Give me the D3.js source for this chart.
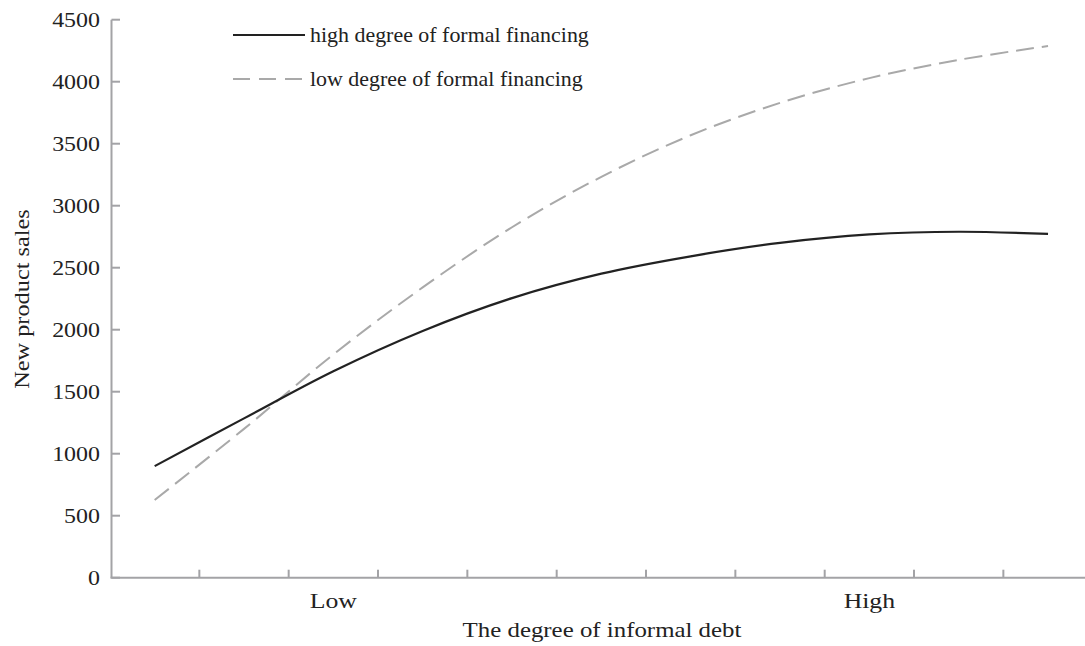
<!DOCTYPE html>
<html>
<head>
<meta charset="utf-8">
<script src="https://cdn.jsdelivr.net/npm/d3@7"></script>
<style>
  html, body { margin: 0; padding: 0; background: #fff; }
  svg { display: block; }
  text { font-family: "Liberation Serif", "DejaVu Serif", serif; fill: #222; }
</style>
</head>
<body>
<svg id="chart" width="1085" height="646"></svg>
<script>
// Eleven positions along the informal-debt axis
const categories = ["1", "2", "3", "4", "5", "6", "7", "8", "9", "10", "11"];
const xTickLabels = ["", "", "Low", "", "", "", "", "", "High", "", ""];

// New product sales for each financing group
const highFormal = [900, 1285, 1665, 1990, 2255, 2452, 2592, 2700, 2768, 2790, 2772];
const lowFormal  = [627, 1200, 1800, 2341, 2826, 3233, 3568, 3829, 4029, 4176, 4288];

const yTicks = [0, 500, 1000, 1500, 2000, 2500, 3000, 3500, 4000, 4500];

const seriesNames = ["high degree of formal financing", "low degree of formal financing"];

const svg = d3.select("#chart");
const axisColor = "#a3a3a6";

const x = d3.scaleBand().domain(categories).range([110, 1092.7]).padding(0);
const y = d3.scaleLinear().domain([0, 4500]).range([577.7, 19.7]);

// Y axis: line, inward ticks, labels
const gy = svg.append("g");
gy.append("line")
  .attr("x1", 111.5).attr("x2", 111.5)
  .attr("y1", y(4500)).attr("y2", y(0))
  .attr("stroke", axisColor).attr("stroke-width", 2);
gy.selectAll("line.tick").data(yTicks).join("line")
  .attr("class", "tick")
  .attr("x1", 111.5).attr("x2", 120)
  .attr("y1", d => y(d)).attr("y2", d => y(d))
  .attr("stroke", axisColor).attr("stroke-width", 2);
gy.selectAll("text").data(yTicks).join("text")
  .attr("text-anchor", "end")
  .attr("transform", d => `translate(100,${y(d) + 7}) scale(1.14,1)`)
  .style("font-size", "21px")
  .text(d => d);

// X axis: line, ticks between categories, labels
const gx = svg.append("g");
gx.append("line")
  .attr("x1", 110.5).attr("x2", 1092.7)
  .attr("y1", y(0)).attr("y2", y(0))
  .attr("stroke", axisColor).attr("stroke-width", 2);
gx.selectAll("line.tick").data(categories.slice(1)).join("line")
  .attr("class", "tick")
  .attr("x1", d => x(d)).attr("x2", d => x(d))
  .attr("y1", y(0)).attr("y2", y(0) - 8)
  .attr("stroke", axisColor).attr("stroke-width", 2);
gx.selectAll("text").data(categories).join("text")
  .attr("text-anchor", "middle")
  .attr("transform", d => `translate(${x(d) + x.bandwidth() / 2},608) scale(1.17,1)`)
  .style("font-size", "22px")
  .text((d, i) => xTickLabels[i]);

// Axis titles
svg.append("text")
  .attr("text-anchor", "middle")
  .attr("transform", "translate(602,637) scale(1.13,1)")
  .style("font-size", "22px")
  .text("The degree of informal debt");
svg.append("text")
  .attr("text-anchor", "middle")
  .attr("transform", "translate(29,299) rotate(-90) scale(1.13,1)")
  .style("font-size", "21.5px")
  .text("New product sales");

// Smoothed lines
const line = d3.line()
  .x((d, i) => x(categories[i]) + x.bandwidth() / 2)
  .y(d => y(d))
  .curve(d3.curveCatmullRom.alpha(0.5));

svg.append("path").datum(lowFormal)
  .attr("d", line)
  .attr("fill", "none")
  .attr("stroke", "#a9a9a9")
  .attr("stroke-width", 2)
  .attr("stroke-dasharray", "18,8");

svg.append("path").datum(highFormal)
  .attr("d", line)
  .attr("fill", "none")
  .attr("stroke", "#222")
  .attr("stroke-width", 2.2);

// Legend
const legend = svg.append("g");
const legendRows = [
  { name: seriesNames[0], y: 35, stroke: "#222", dash: null, w: 2.2 },
  { name: seriesNames[1], y: 79, stroke: "#a9a9a9", dash: "17,9", w: 2 }
];
legendRows.forEach(r => {
  legend.append("line")
    .attr("x1", 233).attr("x2", 305)
    .attr("y1", r.y).attr("y2", r.y)
    .attr("stroke", r.stroke).attr("stroke-width", r.w)
    .attr("stroke-dasharray", r.dash);
  legend.append("text")
    .attr("transform", `translate(310,${r.y + 7}) scale(1.07,1)`)
    .style("font-size", "20.5px")
    .text(r.name);
});
</script>
</body>
</html>
